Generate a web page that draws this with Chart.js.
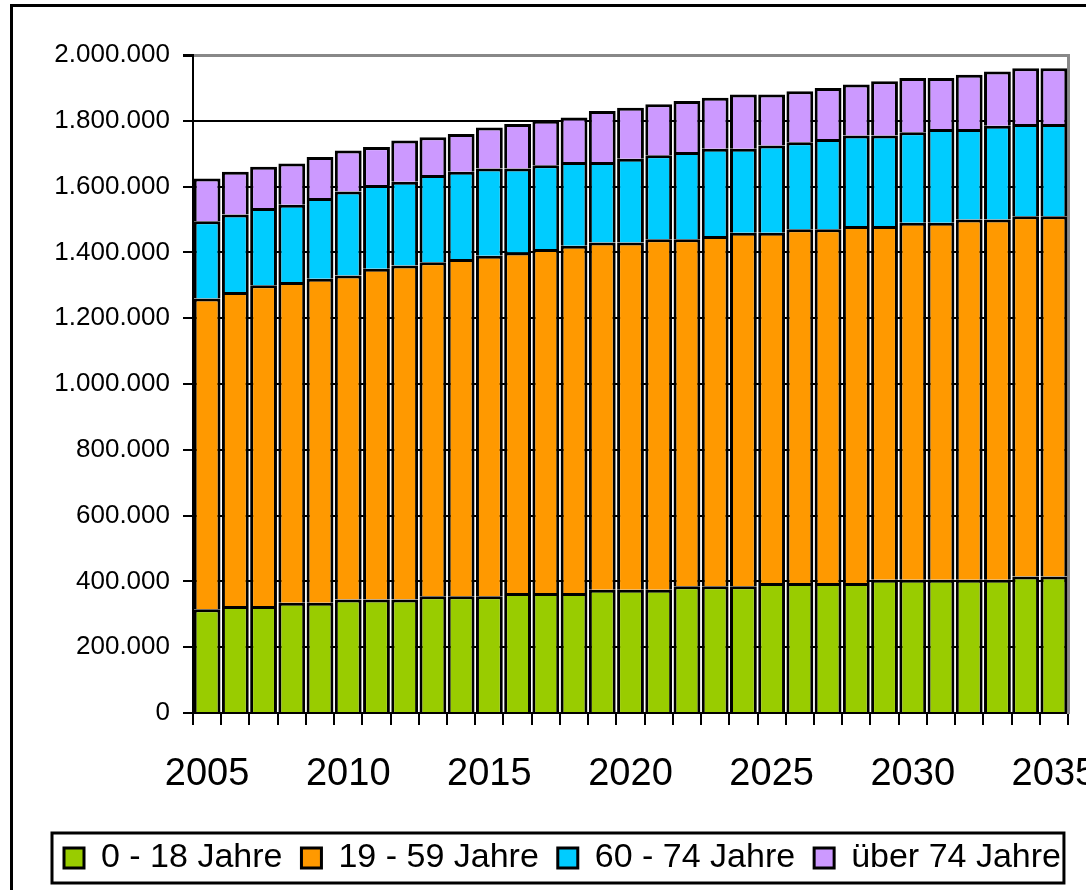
<!DOCTYPE html>
<html>
<head>
<meta charset="utf-8">
<script src="https://cdn.jsdelivr.net/npm/chart.js@4/dist/chart.umd.min.js"></script>
<style>
  html, body { margin: 0; padding: 0; background: #fff; overflow: hidden; width: 1086px; height: 890px; }
  #frame { position: absolute; left: 10px; top: 4px; width: 1200px; height: 950px; border: 3px solid #000; box-sizing: border-box; }
  #wrap { position: absolute; left: 0; top: 0; width: 1112px; height: 890px; }
</style>
</head>
<body>
<div id="frame"></div>
<div id="wrap"><canvas id="chart"></canvas></div>
<script>
// == Data ==
const years = [];
for (let y = 2005; y <= 2035; y++) years.push(String(y));

const ageYoung = [315, 325, 325, 335, 335, 345, 345, 345, 355, 355, 355, 365, 365, 365, 375, 375,
    375, 385, 385, 385, 395, 395, 395, 395, 405, 405, 405, 405, 405, 415, 415];
const ageWork = [945, 955, 975, 975, 985, 985, 1005, 1015, 1015, 1025, 1035, 1035, 1045, 1055, 1055, 1055,
    1065, 1055, 1065, 1075, 1065, 1075, 1075, 1085, 1075, 1085, 1085, 1095, 1095, 1095, 1095];
const ageSenior = [235, 235, 235, 235, 245, 255, 255, 255, 265, 265, 265, 255, 255, 255, 245, 255,
    255, 265, 265, 255, 265, 265, 275, 275, 275, 275, 285, 275, 285, 280, 280];
const ageOld = [130, 130, 125, 125, 125, 125, 115, 125, 115, 115, 125, 135, 135, 135, 155, 155,
    155, 155, 155, 165, 155, 155, 155, 155, 165, 165, 155, 165, 165, 170, 170];

const seriesNames = ["0 - 18 Jahre", "19 - 59 Jahre", "60 - 74 Jahre", "über 74 Jahre"];
const seriesColors = ["#99CC00", "#FF9900", "#00CCFF", "#CC99FF"];

// == Utils ==
function formatDE(v) {
    return String(v).replace(/\B(?=(\d{3})+(?!\d))/g, '.');
}

const toPeople = arr => arr.map(v => v * 1000);

// box around the legend
const legendBoxPlugin = {
    id: 'legendBox',
    afterDraw(chart) {
        const boxes = chart.legend.legendHitBoxes;
        if (!boxes || !boxes.length) return;
        const { ctx } = chart;
        const first = boxes[0];
        const last = boxes[boxes.length - 1];
        const left = first.left - 12;
        const right = last.left + last.width + 3;
        const mid = first.top + first.height / 2;
        ctx.save();
        ctx.strokeStyle = '#000';
        ctx.lineWidth = 3;
        ctx.strokeRect(left, mid - 25, right - left, 50);
        ctx.restore();
    }
};

// == Chart ==
const datasets = [ageYoung, ageWork, ageSenior, ageOld].map((arr, i) => ({
    label: seriesNames[i],
    data: toPeople(arr),
    backgroundColor: seriesColors[i],
    borderColor: '#000',
    borderWidth: 3,
    barPercentage: 0.95,
    categoryPercentage: 1
}));

new Chart(document.getElementById('chart'), {
    type: 'bar',
    data: { labels: years, datasets },
    plugins: [legendBoxPlugin],
    options: {
        responsive: true,
        maintainAspectRatio: false,
        animation: false,
        layout: { padding: { left: 45, right: 0, top: 55, bottom: 5 } },
        plugins: {
            tooltip: { enabled: false },
            legend: {
                position: 'bottom',
                align: 'start',
                labels: {
                    color: '#000',
                    font: { family: 'Liberation Sans, Arial, sans-serif', size: 34 },
                    boxWidth: 20,
                    boxHeight: 20,
                    padding: 19
                }
            }
        },
        scales: {
            x: {
                stacked: true,
                afterFit: axis => {
                    axis.height = 109;
                    axis.paddingLeft = 0;
                    axis.paddingRight = 0;
                },
                border: { color: '#000', width: 2 },
                grid: { drawOnChartArea: false, tickLength: 12, tickColor: '#000', lineWidth: 2 },
                ticks: {
                    autoSkip: false,
                    maxRotation: 0,
                    padding: 27,
                    color: '#000',
                    font: { family: 'Liberation Sans, Arial, sans-serif', size: 38 },
                    callback: function (value, index) {
                        const year = Number(years[index]);
                        return year % 5 === 0 ? years[index] : '';
                    }
                }
            },
            y: {
                stacked: true,
                min: 0,
                max: 2000000,
                afterFit: axis => { axis.width = 148; },
                border: { color: '#000', width: 2 },
                grid: {
                    color: ctx => ctx.tick && ctx.tick.value === 2000000 ? '#888' : '#000',
                    lineWidth: ctx => ctx.tick && ctx.tick.value === 2000000 ? 3 : 2,
                    tickLength: 10,
                    tickColor: '#000'
                },
                ticks: {
                    stepSize: 200000,
                    padding: 13,
                    color: '#000',
                    font: { family: 'Liberation Sans, Arial, sans-serif', size: 26 },
                    callback: v => formatDE(v)
                }
            },
            // empty right axis: gray plot border and room for the cut-off 2035 label
            yRight: {
                position: 'right',
                min: 0,
                max: 2000000,
                afterFit: axis => { axis.width = 44; },
                border: { color: '#888', width: 3 },
                grid: { display: false },
                ticks: { display: false }
            }
        }
    }
});
</script>
</body>
</html>
